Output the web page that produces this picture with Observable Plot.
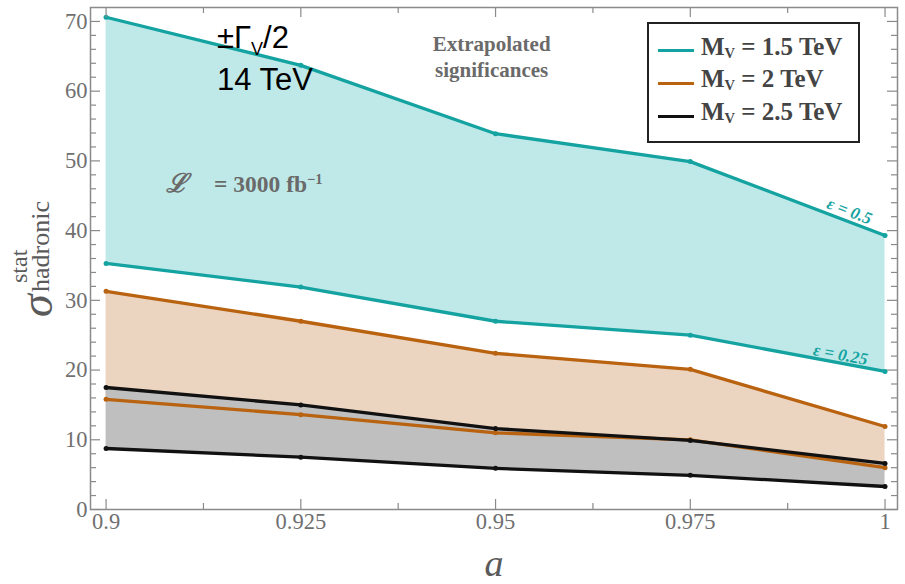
<!DOCTYPE html>
<html>
<head>
<meta charset="utf-8">
<script src="https://cdn.jsdelivr.net/npm/d3@7"></script>
<script src="https://cdn.jsdelivr.net/npm/@observablehq/plot@0.6"></script>
<style>
  body { margin: 0; background: #fff; }
  #chart { position: relative; width: 905px; height: 584px; overflow: hidden; }
  #chart svg { position: absolute; left: 0; top: 0; }
  .note { position: absolute; white-space: nowrap; line-height: 1; }
  .serif { font-family: "Liberation Serif", "DejaVu Serif", serif; }
  .sans { font-family: "Liberation Sans", Arial, sans-serif; }
  #legend { position: absolute; left: 647px; top: 22px; width: 213px; height: 121px;
            box-sizing: border-box; border: 2.5px solid #222; background: #fff; }
  #legend .swatch { position: absolute; left: 9px; width: 36px; height: 0; border-top: 3.5px solid; }
  #legend .entry { position: absolute; left: 52px; font-family: "Liberation Serif", serif;
                   font-weight: bold; font-size: 25px; color: #444; line-height: 1; white-space: nowrap; }
  .lsub { font-size: 0.58em; position: relative; top: 0.22em; }
  #ylab { position: absolute; left: -37px; top: 227px; width: 140px; height: 60px; transform: rotate(-90deg); }
</style>
</head>
<body>
<div id="chart"></div>
<script>
// Mixing parameter a on the horizontal axis
const a = [0.9, 0.925, 0.95, 0.975, 1];
const xTickLabels = ["0.9", "0.925", "0.95", "0.975", "1"];
const yTicks = [0, 10, 20, 30, 40, 50, 60, 70];

// Extrapolated hadronic significances, upper edge (ε = 0.5) and lower edge (ε = 0.25)
const mv15Hi = [70.6, 63.7, 53.9, 49.9, 39.3];
const mv15Lo = [35.3, 31.9, 27.0, 25.0, 19.8];
const mv2Hi  = [31.3, 27.0, 22.4, 20.1, 11.9];
const mv2Lo  = [15.8, 13.6, 11.0, 10.0, 6.0];
const mv25Hi = [17.5, 15.0, 11.6, 9.9, 6.6];
const mv25Lo = [8.75, 7.5, 5.9, 4.9, 3.3];

const massLabels = ["1.5", "2", "2.5"];
const lineColors = ["#14a3a1", "#b9620f", "#111111"];
const bandColors = ["#bfe9e8", "#ebd4c0", "#bfbfbf"];

const bands = [[mv15Hi, mv15Lo], [mv2Hi, mv2Lo], [mv25Hi, mv25Lo]];
const rows = bands.flatMap(([hi, lo], k) =>
  a.map((x, i) => ({mass: massLabels[k], a: x, hi: hi[i], lo: lo[i]})));
const byMass = (m) => rows.filter((d) => d.mass === m);

const W = 905, H = 584;
const margin = {left: 90, right: 8, top: 7, bottom: 75};
const innerW = W - margin.left - margin.right;
const innerH = H - margin.top - margin.bottom;

// Inward-pointing frame ticks on all four sides: full-span rules trimmed by insets
const xMinor = [0.9125, 0.9375, 0.9625, 0.9875];
const yMinor = d3.range(0, 72, 2).filter((v) => v % 10 !== 0);
const tickStyle = {stroke: "#8a8a8a", strokeWidth: 1.2};
const frameTicks = [[a, 10], [xMinor, 6]].flatMap(([vals, len]) => [
  Plot.ruleX(vals, {x: (d) => d, insetTop: innerH - len, ...tickStyle}),
  Plot.ruleX(vals, {x: (d) => d, insetBottom: innerH - len, ...tickStyle})
]).concat([[yTicks, 10], [yMinor, 6]].flatMap(([vals, len]) => [
  Plot.ruleY(vals, {y: (d) => d, insetRight: innerW - len, ...tickStyle}),
  Plot.ruleY(vals, {y: (d) => d, insetLeft: innerW - len, ...tickStyle})
]));

const marks = [];
massLabels.forEach((m, k) => {
  marks.push(Plot.areaY(byMass(m), {x: "a", y1: "lo", y2: "hi", fill: bandColors[k]}));
});
massLabels.forEach((m, k) => {
  for (const edge of ["hi", "lo"]) {
    marks.push(Plot.line(byMass(m), {x: "a", y: edge, stroke: lineColors[k], strokeWidth: 3.3}));
    marks.push(Plot.dot(byMass(m), {x: "a", y: edge, fill: lineColors[k], r: 2.5}));
  }
});

const chart = Plot.plot({
  width: W,
  height: H,
  marginLeft: margin.left,
  marginRight: margin.right,
  marginTop: margin.top,
  marginBottom: margin.bottom,
  x: {domain: [0.898, 1.0016]},
  y: {domain: [0, 72]},
  style: {fontFamily: "'Liberation Serif', serif", fontSize: "22px", color: "#707070", background: "transparent"},
  marks: [
    ...marks,
    Plot.frame({stroke: "#8a8a8a", strokeWidth: 1.5}),
    ...frameTicks,
    Plot.axisX(a, {tickSize: 0, tickPadding: 4, fontSize: 22.5, label: null,
                   tickFormat: (d) => xTickLabels[a.indexOf(d)]}),
    Plot.axisY(yTicks, {tickSize: 0, tickPadding: 3, fontSize: 22.5, label: null}),
    Plot.text(["a"], {frameAnchor: "bottom", dy: 66, fontSize: 38, fontStyle: "italic", fill: "#5a5a5a"}),
    Plot.text([{a: 0.9495, v: 65.1, t: "Extrapolated\nsignificances"}],
      {x: "a", y: "v", text: "t", fontSize: 21, fontWeight: "bold", fill: "#6a6a6a", lineHeight: 1.25}),
    Plot.text([{a: 0.99543, v: 42.8, t: "ε = 0.5"}],
      {x: "a", y: "v", text: "t", rotate: 21, fontSize: 17, fontWeight: "bold", fontStyle: "italic", fill: lineColors[0]}),
    Plot.text([{a: 0.99428, v: 22.2, t: "ε = 0.25"}],
      {x: "a", y: "v", text: "t", rotate: 10.5, fontSize: 17, fontWeight: "bold", fontStyle: "italic", fill: lineColors[0]})
  ]
});

const root = document.getElementById("chart");
root.appendChild(chart);

// Luminosity and width annotations
root.insertAdjacentHTML("beforeend", `
  <div class="note serif" style="left:166px;top:171px;font-size:26px;font-weight:bold;font-style:italic;color:#6a6a6a;">ℒ</div>
  <div class="note serif" style="left:214px;top:173px;font-size:23.5px;font-weight:bold;color:#6a6a6a;">= 3000 fb<span style="font-size:0.62em;position:relative;top:-0.55em;">−1</span></div>
  <div class="note sans" style="left:217px;top:22px;font-size:31px;color:#000;">±Γ<span style="font-size:18px;position:relative;top:7px;">V</span>/2</div>
  <div class="note sans" style="left:217px;top:64px;font-size:31px;color:#000;">14 TeV</div>
`);

// Legend
const legend = document.createElement("div");
legend.id = "legend";
massLabels.forEach((m, k) => {
  const sw = document.createElement("div");
  sw.className = "swatch";
  sw.style.top = (25 + 33 * k) + "px";
  sw.style.borderTopColor = lineColors[k];
  legend.appendChild(sw);
  const t = document.createElement("div");
  t.className = "entry";
  t.style.top = (9.5 + 32.5 * k) + "px";
  t.innerHTML = `M<span class="lsub">V</span> = ${m} TeV`;
  legend.appendChild(t);
});
root.appendChild(legend);

// Vertical axis title: σ with superscript "stat" and subscript "hadronic"
root.insertAdjacentHTML("beforeend", `
  <div id="ylab">
    <div class="note serif" style="left:10px;top:${50 - 0.837 * 46}px;font-size:46px;font-style:italic;color:#5a5a5a;">σ</div>
    <div class="note serif" style="left:44px;top:${24 - 0.837 * 24}px;font-size:24px;color:#5a5a5a;">stat</div>
    <div class="note serif" style="left:35px;top:${47 - 0.837 * 26}px;font-size:26px;color:#5a5a5a;">hadronic</div>
  </div>
`);
</script>
</body>
</html>
